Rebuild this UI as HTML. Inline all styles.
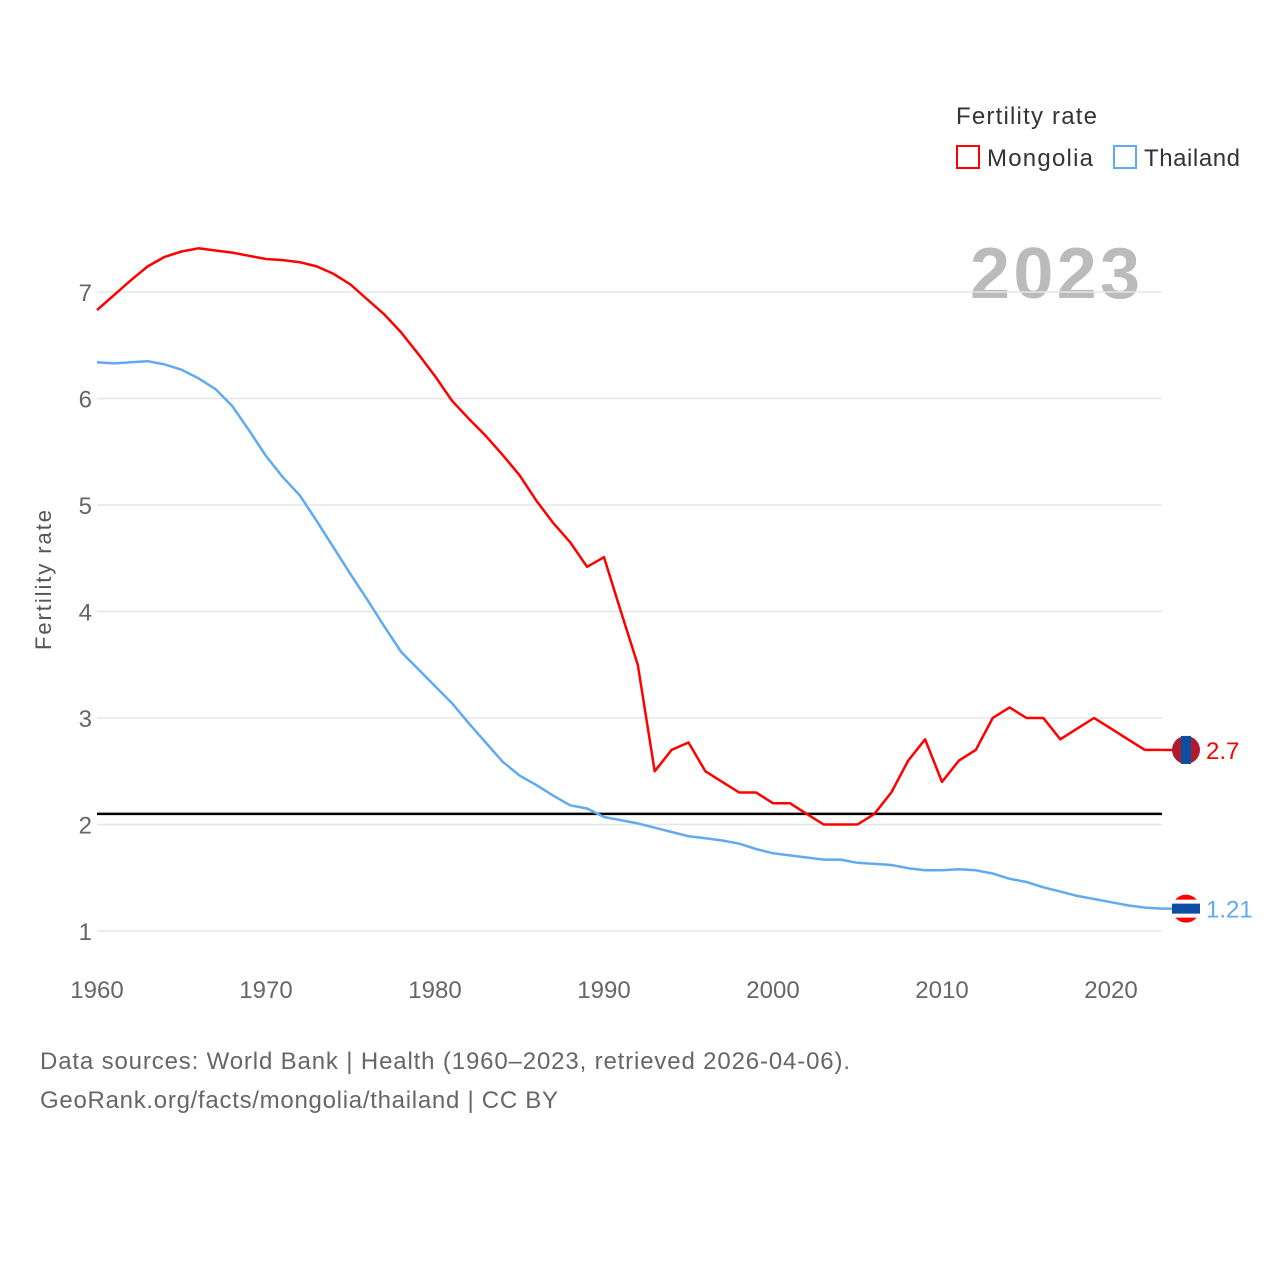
<!DOCTYPE html>
<html><head><meta charset="utf-8"><style>
body{margin:0;background:#fff;font-family:"Liberation Sans",sans-serif}
svg text{font-family:"Liberation Sans",sans-serif}
</style></head><body>
<svg id="chart" width="1280" height="1280">
<text x="956" y="124" font-size="24" fill="#333" textLength="141" lengthAdjust="spacing">Fertility rate</text>
<g><rect x="957" y="146" width="22" height="22" fill="none" stroke="#f00" stroke-width="2"/><text x="987" y="166" font-size="24" fill="#333" textLength="106" lengthAdjust="spacing">Mongolia</text></g>
<g><rect x="1114" y="146" width="22" height="22" fill="none" stroke="#62aaf0" stroke-width="2"/><text x="1144" y="166" font-size="24" fill="#333" textLength="96" lengthAdjust="spacing">Thailand</text></g>
<text x="1140" y="298" font-size="72" font-weight="bold" fill="#bbb" text-anchor="end" textLength="170" lengthAdjust="spacing">2023</text>
<g id="grid"></g><g id="lines"></g>
<text transform="translate(51,580) rotate(-90)" font-size="22" fill="#555" text-anchor="middle" textLength="140" lengthAdjust="spacing">Fertility rate</text>
<text x="40" y="1069" font-size="24" fill="#666" textLength="810" lengthAdjust="spacing">Data sources: World Bank | Health (1960–2023, retrieved 2026-04-06).</text>
<text x="40" y="1108" font-size="24" fill="#666" textLength="518" lengthAdjust="spacing">GeoRank.org/facts/mongolia/thailand | CC BY</text>
</svg>
<script>
const years=[];for(let y=1960;y<=2023;y++)years.push(y);
const mongolia=[6.83,6.97,7.11,7.24,7.33,7.38,7.41,7.39,7.37,7.34,7.31,7.30,7.28,7.24,7.17,7.07,6.93,6.79,6.62,6.42,6.21,5.98,5.81,5.65,5.47,5.28,5.04,4.83,4.65,4.42,4.51,4.0,3.5,2.5,2.7,2.77,2.5,2.4,2.3,2.3,2.2,2.2,2.1,2.0,2.0,2.0,2.1,2.3,2.6,2.8,2.4,2.6,2.7,3.0,3.1,3.0,3.0,2.8,2.9,3.0,2.9,2.8,2.7,2.7];
const thailand=[6.34,6.33,6.34,6.35,6.32,6.27,6.19,6.09,5.93,5.70,5.46,5.26,5.09,4.85,4.60,4.35,4.11,3.86,3.62,3.46,3.30,3.14,2.95,2.77,2.59,2.46,2.37,2.27,2.18,2.15,2.07,2.04,2.01,1.97,1.93,1.89,1.87,1.85,1.82,1.77,1.73,1.71,1.69,1.67,1.67,1.64,1.63,1.62,1.59,1.57,1.57,1.58,1.57,1.54,1.49,1.46,1.41,1.37,1.33,1.30,1.27,1.24,1.22,1.21];
const yTicks=[1,2,3,4,5,6,7];
const xTicks=[1960,1970,1980,1990,2000,2010,2020];
const replacement=2.1;
const X=v=>97+(v-1960)*(1111-97)/60;
const Y=v=>931-(v-1)*(931-292)/6;
const NS='http://www.w3.org/2000/svg';
const grid=document.getElementById('grid'),lines=document.getElementById('lines');
function mk(tag,attrs,parent,txt){const e=document.createElementNS(NS,tag);for(const k in attrs)e.setAttribute(k,attrs[k]);if(txt!==undefined)e.textContent=txt;parent.appendChild(e);return e;}
yTicks.forEach(t=>{
 const l=mk('line',{x1:97,x2:1162,y1:Y(t),y2:Y(t),stroke:'#e6e6e6','stroke-width':1.5},grid);
 
 
 const tx=mk('text',{x:92,y:Y(t)+9,'font-size':24,fill:'#666','text-anchor':'end'},grid,String(t));
 
 
});
xTicks.forEach(t=>{
 const tx=mk('text',{x:X(t),y:998,'font-size':24,fill:'#666','text-anchor':'middle'},grid,String(t));
 
 
});
const ref=mk('line',{x1:97,x2:1162,y1:Y(replacement),y2:Y(replacement),stroke:'#000','stroke-width':2.5},lines);


function series(vals,color,name,label){
 const d=vals.map((v,i)=>(i?'L':'M')+X(years[i]).toFixed(1)+','+Y(v).toFixed(1)).join('');
 const p=mk('path',{d:d,fill:'none',stroke:color,'stroke-width':2.5,'stroke-linejoin':'round'},lines);
 
 
 const last=vals[vals.length-1],y=Y(last);
 mk('line',{x1:X(2023),x2:1175,y1:y,y2:y,stroke:color,'stroke-width':2.5},lines);
 const g=mk('g',{},lines);
 
 
 if(name==='mongolia'){
  mk('circle',{cx:1186,cy:y,r:14,fill:'#b01c2e'},g);
  mk('rect',{x:1181,y:y-14,width:10,height:28,fill:'#0b4ea2'},g);
 }else{
  mk('circle',{cx:1186,cy:y,r:14,fill:'#f00'},g);
  mk('rect',{x:1172,y:y-9,width:28,height:18,fill:'#fff'},g);
  mk('rect',{x:1172,y:y-5,width:28,height:10,fill:'#0b4ea2'},g);
 }
 const t=mk('text',{x:1206,y:y+9,'font-size':24,fill:color},lines,label);
 
 
}
series(mongolia,'#f00','mongolia','2.7');
series(thailand,'#62aaf0','thailand','1.21');
</script>
</body></html>
